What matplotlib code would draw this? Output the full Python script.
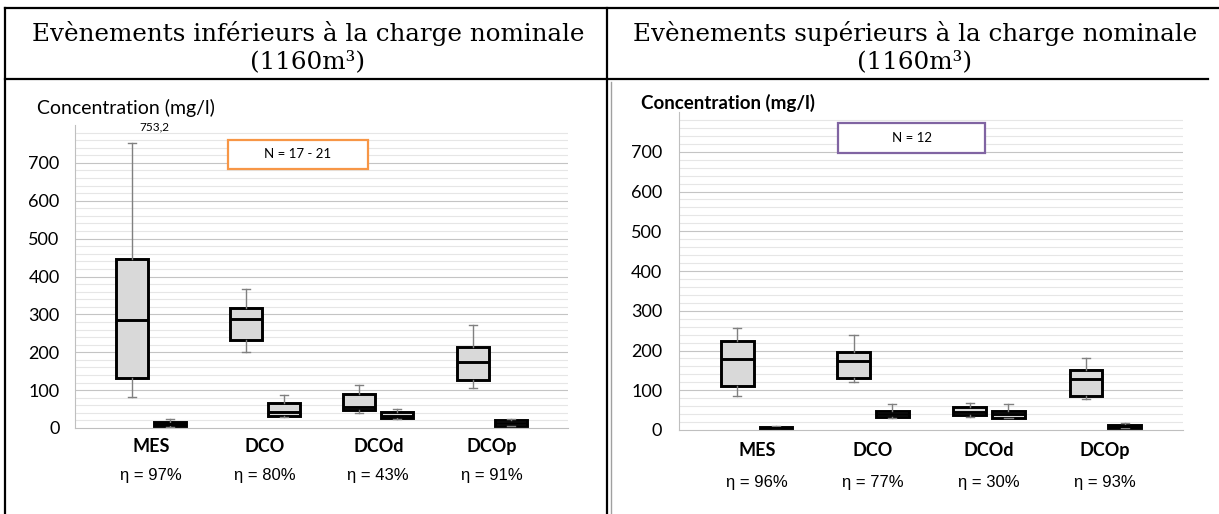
import numpy as np
import matplotlib.pyplot as plt
import matplotlib.patches as mpatches
from matplotlib.lines import Line2D

W, H = 1219, 514

categories = ["MES", "DCO", "DCOd", "DCOp"]
rendements_inf = ["η = 97%", "η = 80%", "η = 43%", "η = 91%"]
rendements_sup = ["η = 96%", "η = 77%", "η = 30%", "η = 93%"]

# (moustache basse, Q1, médiane, Q3, moustache haute) en mg/l
entree_inf = [[82, 132, 286, 445, 753.2],
              [201, 233, 288, 317, 367],
              [40, 48, 56, 90, 114],
              [105, 127, 174, 215, 272]]
sortie_inf = [[3, 4, 10, 16, 24],
              [29, 31, 42, 66, 88],
              [24, 27, 33, 42, 50],
              [5, 6, 13, 21, 24]]
entree_sup = [[86, 111, 179, 223, 257],
              [121, 131, 174, 196, 239],
              [33, 37, 45, 57, 68],
              [78, 86, 129, 150, 181]]
sortie_sup = [[2, 3, 5, 8, 9],
              [30, 33, 40, 48, 66],
              [29, 31, 40, 48, 66],
              [5, 6, 9, 12, 18]]
max_mes_inf = 753.2

plt.rcParams['font.family'] = ['Lato', 'DejaVu Sans']


def fx(x):
    return x / W


def fy(y):
    return 1 - y / H


fig = plt.figure(figsize=(W / 100, H / 100), dpi=100)


def panel(ax, entree, sortie, rendements, lab_off, eta_off, pad):
    ax.set_xlim(0.33, 4.67)
    ax.set_ylim(0, 800)
    for v in range(20, 800, 20):
        ax.axhline(v, color='#C4C4C4' if v % 100 == 0 else '#E6E6E6', lw=0.8, zorder=0)
    pos = np.arange(1, len(categories) + 1)
    for data, shift in ((entree, -0.167), (sortie, 0.167)):
        stats = [dict(whislo=d[0], q1=d[1], med=d[2], q3=d[3], whishi=d[4], fliers=[]) for d in data]
        ax.bxp(stats, positions=pos + shift, widths=0.28, capwidths=0.07,
               patch_artist=True, showfliers=False, manage_ticks=False,
               boxprops=dict(facecolor='#D9D9D9', edgecolor='black', linewidth=2.1),
               medianprops=dict(color='black', linewidth=2.1),
               whiskerprops=dict(color='#808080', linewidth=1),
               capprops=dict(color='#808080', linewidth=1))
    for s in ('top', 'right'):
        ax.spines[s].set_visible(False)
    for s in ('left', 'bottom'):
        ax.spines[s].set_color('#BFBFBF')
        ax.spines[s].set_linewidth(0.8)
    ax.set_yticks(range(0, 800, 100))
    ax.tick_params(axis='y', length=0, pad=pad, labelsize=13)
    ax.set_xticks([])
    for i, (c, r) in enumerate(zip(categories, rendements)):
        ax.annotate(c, xy=(pos[i], 0), xycoords=('data', 'axes fraction'), xytext=(0, -lab_off),
                    textcoords='offset points', ha='center', va='center',
                    fontweight='bold', fontsize=13)
        ax.annotate(r, xy=(pos[i], 0), xycoords=('data', 'axes fraction'), xytext=(0, -eta_off),
                    textcoords='offset points', ha='center', va='center',
                    family=['Liberation Sans', 'DejaVu Sans'], fontsize=12)


# panneau gauche
ax1 = fig.add_axes([fx(75), fy(428), fx(568) - fx(75), fy(125) - fy(428)])
panel(ax1, entree_inf, sortie_inf, rendements_inf, 13, 34, 11)
ax1.annotate(str(max_mes_inf).replace('.', ','), xy=(0.9, 0.993), xycoords=('data', 'axes fraction'),
             ha='left', va='center', fontsize=8.5)

# panneau droit
ax2 = fig.add_axes([fx(679), fy(430), fx(1183) - fx(679), fy(112) - fy(430)])
panel(ax2, entree_sup, sortie_sup, rendements_sup, 14.5, 38, 12)

# titres des axes
fig.text(fx(37), fy(108), "Concentration (mg/l)", ha='left', va='center', fontsize=14)
fig.text(fx(641), fy(103), "Concentration (mg/l)", ha='left', va='center', fontsize=13.5,
         fontweight='bold')

# encadrés N
for (x0, y0, x1, y1), col, txt in (((228, 140, 368, 169), '#F79646', "N = 17 - 21"),
                                   ((838, 123, 985, 153), '#8064A2', "N = 12")):
    fig.add_artist(mpatches.Rectangle((fx(x0), fy(y1)), fx(x1) - fx(x0), fy(y0) - fy(y1),
                                      transform=fig.transFigure, facecolor='white',
                                      edgecolor=col, lw=1.6))
    fig.text(fx((x0 + x1) / 2), fy((y0 + y1) / 2), txt, ha='center', va='center', fontsize=9.5)

# titres du tableau
titres = ["Evènements inférieurs à la charge nominale", "Evènements supérieurs à la charge nominale"]
for xc, t in ((308, titres[0]), (915, titres[1])):
    fig.text(fx(xc), fy(33), t, ha='center', va='center', fontsize=17.7, family='DejaVu Serif')
    fig.text(fx(xc), fy(62), "(1160m³)", ha='center', va='center', fontsize=17.7, family='DejaVu Serif')

# lignes du tableau
lignes = [((5, 8), (1219, 8)), ((5, 79), (1208, 79)), ((5, 8), (5, 514)), ((607, 8), (607, 514))]
for (xa, ya), (xb, yb) in lignes:
    fig.add_artist(Line2D([fx(xa), fx(xb)], [fy(ya), fy(yb)], transform=fig.transFigure,
                          color='black', lw=1.6))
fig.add_artist(Line2D([fx(611), fx(611)], [fy(82), fy(514)], transform=fig.transFigure,
                      color='#A0A0A0', lw=1))

fig.savefig("out.png", dpi=100)
